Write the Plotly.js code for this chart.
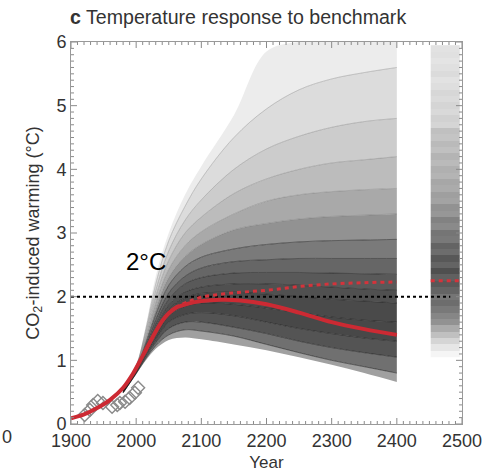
<!DOCTYPE html>
<html><head><meta charset="utf-8">
<script src="https://cdn.plot.ly/plotly-3.0.1.min.js"></script>
<style>html,body{margin:0;padding:0;background:#fff}#chart{width:494px;height:472px}</style>
</head><body><div id="chart"></div>
<script>
// ---- data ----
const fanYears = [1980, 2000, 2015, 2030, 2050, 2075, 2100, 2150, 2200, 2250, 2300, 2350, 2400];
const fanMin   = [0.48,0.78,1.00,1.18,1.32,1.36,1.33,1.25,1.16,1.05,0.93,0.80,0.66];
const fanMax   = [0.56,0.92,1.55,2.32,3.00,3.60,4.05,4.85,5.85,6.00,6.00,6.00,6.00];
// representative ensemble members, lowest to highest
const memberCurves = [
  [0.49,0.79,1.03,1.23,1.40,1.48,1.46,1.38,1.25,1.12,1.00,0.90,0.80],
  [0.49,0.80,1.06,1.28,1.50,1.60,1.60,1.52,1.42,1.30,1.20,1.12,1.05],
  [0.50,0.81,1.09,1.33,1.60,1.72,1.75,1.70,1.60,1.50,1.42,1.35,1.30],
  [0.50,0.82,1.12,1.38,1.70,1.85,1.90,1.88,1.82,1.75,1.68,1.63,1.60],
  [0.51,0.83,1.15,1.44,1.80,1.98,2.05,2.07,2.04,2.00,1.96,1.93,1.90],
  [0.51,0.84,1.18,1.50,1.87,2.07,2.15,2.20,2.20,2.18,2.15,2.12,2.10],
  [0.52,0.85,1.21,1.57,1.96,2.20,2.30,2.37,2.38,2.38,2.37,2.36,2.35],
  [0.52,0.86,1.24,1.64,2.06,2.32,2.45,2.55,2.58,2.60,2.60,2.60,2.60],
  [0.53,0.87,1.28,1.72,2.18,2.47,2.62,2.75,2.82,2.86,2.88,2.89,2.90],
  [0.53,0.88,1.32,1.80,2.30,2.63,2.82,3.05,3.15,3.22,3.26,3.28,3.30],
  [0.54,0.89,1.36,1.90,2.43,2.80,3.02,3.30,3.50,3.60,3.65,3.68,3.70],
  [0.54,0.90,1.41,2.00,2.57,3.00,3.25,3.62,3.85,4.00,4.10,4.15,4.20],
  [0.55,0.91,1.46,2.10,2.72,3.20,3.52,4.00,4.32,4.52,4.66,4.75,4.80],
  [0.55,0.91,1.50,2.20,2.88,3.42,3.85,4.50,4.95,5.25,5.42,5.52,5.60]
];
// grey shade of the band just below each member curve (and the top band)
const bandShades = ['#a0a0a0','#707070','#545454','#484848','#4a4a4a','#505050','#595959',
                    '#666666','#7a7a7a','#929292','#a9a9a9','#bcbcbc','#cccccc','#dcdcdc','#ececec'];

const redYears  = [1900, 1920, 1940, 1960, 1980, 1995, 2010, 2025, 2040, 2050, 2060, 2080, 2100, 2130, 2160, 2200, 2250, 2300, 2350, 2400];
const redSolid  = [0.09, 0.15, 0.25, 0.38, 0.57, 0.79, 1.07, 1.36, 1.62, 1.74, 1.82, 1.89, 1.93, 1.95, 1.94, 1.88, 1.75, 1.60, 1.49, 1.40];
const dashYears = [2060, 2080, 2100, 2150, 2200, 2250, 2300, 2350, 2400];
const redDashed = [1.83, 1.92, 1.99, 2.06, 2.10, 2.16, 2.20, 2.22, 2.23];

const obsYears  = [1921, 1929, 1934, 1941, 1949, 1963, 1971, 1975, 1983, 1990, 1998, 2003];
const obsValues = [0.14, 0.22, 0.30, 0.36, 0.33, 0.27, 0.30, 0.33, 0.35, 0.41, 0.49, 0.57];

const stripYears  = [2452, 2497];
const stripLevels = [1.1,1.2,1.3,1.4,1.5,1.6,1.7,1.8,1.9,2.0,2.1,2.2,2.3,2.4,2.5,2.6,2.7,2.8,2.9,3.0,
                     3.1,3.2,3.3,3.4,3.5,3.6,3.7,3.8,3.9,4.0,4.1,4.2,4.3,4.4,4.5,4.6,4.7,4.8,4.9,5.0,
                     5.1,5.2,5.3,5.4,5.5,5.6,5.7,5.8,5.9];
const stripDensity= [0.05,0.12,0.20,0.30,0.40,0.52,0.58,0.64,0.70,0.66,0.74,0.80,0.76,0.84,0.74,0.80,0.70,0.74,0.64,0.66,
                     0.56,0.60,0.50,0.52,0.44,0.46,0.40,0.42,0.36,0.38,0.33,0.36,0.30,0.33,0.28,0.30,0.20,0.22,0.18,0.20,
                     0.17,0.19,0.16,0.14,0.17,0.15,0.13,0.15,0.14];
const stripDashValue = [2.25, 2.25];

const targetYears = [1900, 2482];
const targetValue = [2, 2];

// axis tick positions (major every 100 yr / 1 degree, minor every 10 yr / 0.1 degree)
const xRange = [1900, 2500];
const yRange = [0, 6];
const xMinorStep = 10, xMajorStep = 100;
const yMinorStep = 0.1, yMajorStep = 1;

// ---- traces ----
const traces = [];
const curveStack = [fanMin].concat(memberCurves, [fanMax]);
curveStack.forEach((c, i) => traces.push({
  x: fanYears, y: c, type: 'scatter', mode: 'lines',
  line: {width: 0, shape: 'spline', smoothing: 1},
  fill: i === 0 ? 'none' : 'tonexty', fillcolor: i === 0 ? undefined : bandShades[i - 1],
  hoverinfo: 'skip', showlegend: false
}));

memberCurves.forEach((m, i) => traces.push({
  x: fanYears, y: m, type: 'scatter', mode: 'lines',
  line: {width: 1, color: i < 9 ? 'rgba(20,20,20,0.5)' : 'rgba(90,90,90,0.3)', shape: 'spline', smoothing: 1},
  hoverinfo: 'skip', showlegend: false
}));

traces.push({
  x: stripYears, y: stripLevels, z: stripDensity.map(v => [v]), type: 'heatmap',
  colorscale: [[0, '#ffffff'], [1, '#2e2e2e']], zmin: 0, zmax: 1, showscale: false,
  hoverinfo: 'skip'
});

traces.push({
  x: obsYears, y: obsValues, type: 'scatter', mode: 'markers',
  marker: {symbol: 'diamond-open', size: 10, color: '#8a8a8a', line: {width: 1.4}},
  showlegend: false
});

traces.push({
  x: targetYears, y: targetValue, type: 'scatter', mode: 'lines',
  line: {color: '#000', width: 2, dash: 'dot'}, showlegend: false
});
traces.push({
  x: dashYears, y: redDashed, type: 'scatter', mode: 'lines',
  line: {color: '#d4333b', width: 3, dash: '4px,4px', shape: 'spline'}, showlegend: false
});
traces.push({
  x: stripYears, y: stripDashValue, type: 'scatter', mode: 'lines',
  line: {color: '#d4333b', width: 3, dash: '4px,4px'}, showlegend: false
});
traces.push({
  x: redYears, y: redSolid, type: 'scatter', mode: 'lines',
  line: {color: '#cc2a33', width: 4, shape: 'spline', smoothing: 1}, showlegend: false
});

// ---- inside tick marks on all four sides (axis decoration) ----
const margin = {l: 71, r: 32, t: 42, b: 48};
const plotW = 494 - margin.l - margin.r, plotH = 472 - margin.t - margin.b;
const shapes = [];
const tickLine = {color: '#8a8a8a', width: 1};
const nX = Math.round((xRange[1] - xRange[0]) / xMinorStep);
for (let k = 0; k <= nX; k++) {
  const yr = xRange[0] + k * xMinorStep;
  const len = (k % (xMajorStep / xMinorStep) === 0 ? 6 : 3) / plotH;
  shapes.push({type: 'line', xref: 'x', yref: 'paper', x0: yr, x1: yr, y0: 0, y1: len, line: tickLine, layer: 'above'});
  shapes.push({type: 'line', xref: 'x', yref: 'paper', x0: yr, x1: yr, y0: 1, y1: 1 - len, line: tickLine, layer: 'above'});
}
const nY = Math.round((yRange[1] - yRange[0]) / yMinorStep);
for (let k = 0; k <= nY; k++) {
  const v = yRange[0] + k * yMinorStep;
  const len = (k % Math.round(yMajorStep / yMinorStep) === 0 ? 6 : 3) / plotW;
  shapes.push({type: 'line', xref: 'paper', yref: 'y', x0: 0, x1: len, y0: v, y1: v, line: tickLine, layer: 'above'});
  shapes.push({type: 'line', xref: 'paper', yref: 'y', x0: 1, x1: 1 - len, y0: v, y1: v, line: tickLine, layer: 'above'});
}

const fontFam = 'Liberation Sans, Arial, Helvetica, sans-serif';
const layout = {
  width: 494, height: 472,
  margin: margin,
  paper_bgcolor: '#fff', plot_bgcolor: '#fff',
  font: {family: fontFam, color: '#333', size: 18},
  showlegend: false,
  title: {text: '<b>c</b> Temperature response to benchmark', x: 70/494, xanchor: 'left', xref: 'container',
          y: 1 - 17/472, yanchor: 'middle', yref: 'container', font: {size: 19.6, color: '#333', family: fontFam}},
  xaxis: {
    range: xRange, autorange: false, tickmode: 'linear', tick0: 1900, dtick: xMajorStep,
    ticks: '', showline: true, linecolor: '#999', linewidth: 1, mirror: true,
    showgrid: false, zeroline: false,
    tickfont: {size: 18, color: '#333'},
    title: {text: 'Year', font: {size: 17, color: '#333'}, standoff: 6}
  },
  yaxis: {
    range: yRange, autorange: false, tickmode: 'linear', tick0: 0, dtick: yMajorStep,
    ticks: '', showline: true, linecolor: '#999', linewidth: 1, mirror: true,
    showgrid: false, zeroline: false,
    tickfont: {size: 18, color: '#333'},
    title: {text: 'CO<sub>2</sub>-induced warming (°C)', font: {size: 18, color: '#333'}, standoff: 12}
  },
  shapes: shapes,
  annotations: [
    {x: 2015, y: 2.56, xref: 'x', yref: 'y', text: '2°C', showarrow: false,
     font: {size: 24, color: '#000', family: fontFam}},
    {x: (7 - 71) / 391, y: -(437 - 424) / 382, xref: 'paper', yref: 'paper', text: '0', showarrow: false,
     xanchor: 'center', yanchor: 'middle', font: {size: 18, color: '#333'}}
  ]
};
Plotly.newPlot('chart', traces, layout, {displayModeBar: false});
</script></body></html>
